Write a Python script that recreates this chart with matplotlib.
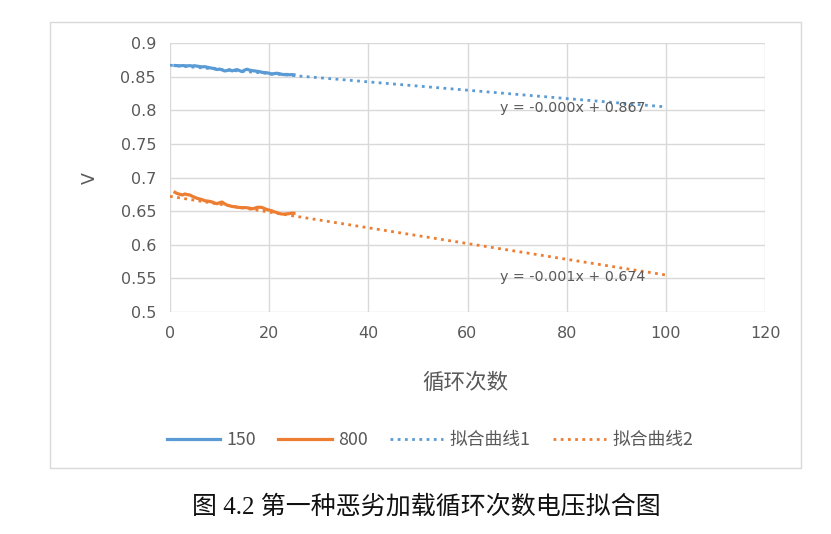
import numpy as np
import matplotlib
matplotlib.use("Agg")
import matplotlib.pyplot as plt
from matplotlib.patches import Rectangle

plt.rcParams['font.family'] = ['Noto Sans CJK SC', 'DejaVu Sans']

cycles = [1 + 0.5 * i for i in range(49)]
v150 = [0.8665, 0.8663, 0.866, 0.8665, 0.8662, 0.866, 0.8663, 0.8658, 0.8662, 0.8655,
        0.865, 0.8645, 0.8648, 0.864, 0.8632, 0.8625, 0.862, 0.8605, 0.8612, 0.860,
        0.8585, 0.859, 0.8603, 0.8585, 0.8595, 0.8605, 0.859, 0.8575, 0.8595, 0.861,
        0.8598, 0.859, 0.8585, 0.858, 0.8575, 0.8565, 0.856, 0.8558, 0.855, 0.8535,
        0.8545, 0.855, 0.8545, 0.8535, 0.853, 0.8533, 0.8528, 0.853, 0.8527]
v800 = [0.678, 0.676, 0.675, 0.674, 0.6755, 0.6745, 0.674, 0.672, 0.6705, 0.669,
        0.668, 0.667, 0.6655, 0.665, 0.6645, 0.6635, 0.662, 0.661, 0.6625, 0.6635,
        0.661, 0.659, 0.658, 0.657, 0.6565, 0.6558, 0.6555, 0.655, 0.6553, 0.655,
        0.6545, 0.6535, 0.654, 0.6555, 0.6558, 0.6555, 0.654, 0.6525, 0.6515, 0.6505,
        0.649, 0.648, 0.6465, 0.6458, 0.6455, 0.646, 0.6462, 0.647, 0.6468]

fit1_slope, fit1_intercept = -0.00062, 0.867
fit2_slope, fit2_intercept = -0.00117, 0.672
fit_range = [0, 100]

series_labels = ['150', '800', '拟合曲线1', '拟合曲线2']
fit_texts = ['y = -0.000x + 0.867', 'y = -0.001x + 0.674']
x_label = '循环次数'
y_label = 'V'
caption = '图 4.2 第一种恶劣加载循环次数电压拟合图'

blue = '#5b9bd5'
orange = '#ed7d31'
txt = '#595959'
grid = '#d9d9d9'

W, H = 831, 534
fig = plt.figure(figsize=(W / 100, H / 100), dpi=100)
fig.patch.set_facecolor('white')

# outer chart border
fig.add_artist(Rectangle((50 / W, 1 - 468 / H), 751 / W, 446 / H,
                         transform=fig.transFigure, fill=False,
                         edgecolor='#d9d9d9', linewidth=1.0))

ax = fig.add_axes([170 / W, 1 - 312 / H, 595 / W, 269 / H])
ax.set_xlim(0, 120)
ax.set_ylim(0.5, 0.9)
ax.set_xticks(np.arange(0, 121, 20))
ax.set_yticks(np.arange(0.5, 0.901, 0.05))
ax.set_yticklabels(['0.5', '0.55', '0.6', '0.65', '0.7', '0.75', '0.8', '0.85', '0.9'])
ax.grid(True, color=grid, linewidth=1.0)
ax.set_axisbelow(True)
for s in ax.spines.values():
    s.set_visible(False)
ax.tick_params(length=0, labelsize=11.5, colors=txt, pad=10)
for lab in ax.get_xticklabels() + ax.get_yticklabels():
    lab.set_family(['DejaVu Sans'])

fx = np.array(fit_range, dtype=float)
ax.plot(fx, fit1_slope * fx + fit1_intercept, color=blue, linestyle=(0, (1, 1.6)),
        linewidth=2.0, label=series_labels[2], zorder=2)
ax.plot(fx, fit2_slope * fx + fit2_intercept, color=orange, linestyle=(0, (1, 1.6)),
        linewidth=2.0, label=series_labels[3], zorder=2)
ax.plot(cycles, v150, color=blue, linewidth=2.3, label=series_labels[0], zorder=3)
ax.plot(cycles, v800, color=orange, linewidth=2.3, label=series_labels[1], zorder=3)

ax.text(66.5, 0.8035, fit_texts[0], color=txt, fontsize=10.3, family=['DejaVu Sans'], va='center')
ax.text(66.5, 0.5525, fit_texts[1], color=txt, fontsize=10.3, family=['DejaVu Sans'], va='center')

fig.text(90 / W, 1 - 178 / H, y_label, rotation=90, color=txt, fontsize=12.5,
         ha='center', va='center', family=['DejaVu Sans'])
fig.text(465 / W, 1 - 383 / H, x_label, color=txt, fontsize=15.5, ha='center', va='center')

handles, labels = ax.get_legend_handles_labels()
order = [2, 3, 0, 1]
leg = fig.legend([handles[i] for i in order], [labels[i] for i in order],
                 loc='center', bbox_to_anchor=(430 / W, 1 - 440 / H), ncol=4,
                 frameon=False, fontsize=12.8, handlelength=3.0, columnspacing=1.25,
                 handletextpad=0.35, labelcolor=txt)

fig.text(426 / W, 1 - 507 / H, caption, color='#111111', fontsize=18,
         ha='center', va='center', family=['Liberation Serif', 'Noto Sans CJK SC'])

fig.savefig('out.png', dpi=100)
